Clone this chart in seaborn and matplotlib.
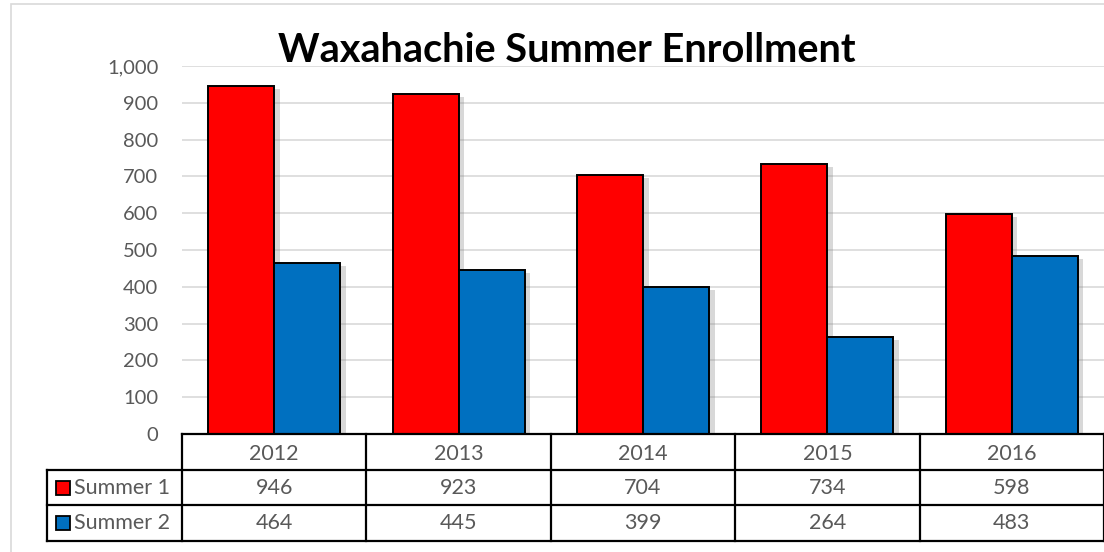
"""Waxahachie summer enrollment: clustered bars with an Excel-style data table."""

import matplotlib
matplotlib.use("Agg")
import matplotlib.pyplot as plt
import matplotlib.patheffects as pe
from matplotlib.lines import Line2D
from matplotlib.patches import Rectangle
import pandas as pd
import seaborn as sns

years = ["2012", "2013", "2014", "2015", "2016"]
summer1 = [946, 923, 704, 734, 598]
summer2 = [464, 445, 399, 264, 483]
series = ["Summer 1", "Summer 2"]
colors = ["#FF0000", "#0070C0"]
yticks = list(range(0, 1001, 100))

W, H = 1104, 552
GRAY_TXT = "#595959"
GRID = "#D9D9D9"
TAB_FS = 15.5

sns.set_theme(style="white")
plt.rcParams["font.family"] = ["Lato", "DejaVu Sans"]

df = pd.DataFrame({
    "year": years * 2,
    "enrollment": summer1 + summer2,
    "series": [series[0]] * len(years) + [series[1]] * len(years),
})

fig = plt.figure(figsize=(W / 100, H / 100), dpi=100)

# outer chart-area border
fig.add_artist(Rectangle((11 / W, -0.1), 1.2, (H - 4) / H + 0.1,
                         transform=fig.transFigure, fill=False,
                         edgecolor=GRID, linewidth=1.2))

x0, x1 = 182, 1104
y_top, y_zero, y_bot = 66, 434, 541
ax = fig.add_axes([x0 / W, (H - y_zero) / H, (x1 - x0) / W, (y_zero - y_top) / H])

sns.barplot(data=df, x="year", y="enrollment", hue="series", order=years,
            hue_order=series, palette=colors, width=0.716, edgecolor="black",
            linewidth=1.4, saturation=1, ax=ax, legend=False)
for bar in ax.patches:
    bar.set_path_effects([
        pe.SimplePatchShadow(offset=(4, -2), shadow_rgbFace="#808080", alpha=0.3),
        pe.Normal(),
    ])

ax.set_xlim(-0.5, len(years) - 0.5)
ax.set_ylim(0, 1000)
ax.set_yticks(yticks)
ax.set_yticklabels([f"{v:,}" for v in yticks])
ax.tick_params(axis="y", length=0, pad=17, labelsize=14.5, labelcolor=GRAY_TXT)
ax.set_xticks([])
ax.set_xlabel("")
ax.set_ylabel("")
for s in ax.spines.values():
    s.set_visible(False)
ax.grid(False)
for v in yticks[1:]:
    ax.axhline(v, color=GRID, linewidth=1.2, zorder=0)

fig.text(567 / W, (H - 51) / H, "Waxahachie Summer Enrollment",
         ha="center", va="center", fontsize=28.5, fontweight="bold", color="black")

# data table underneath, sharing the category scale of the bars
tab = fig.add_axes([x0 / W, (H - y_bot) / H, (x1 - x0) / W, (y_bot - y_zero) / H])
tab.set_xlim(-0.5, len(years) - 0.5)
tab.set_ylim(3, 0)
tab.axis("off")

unit = (x1 - x0) / len(years)
left = -0.5 - (x0 - 47) / unit
line_kw = dict(color="black", linewidth=1.6, clip_on=False, solid_capstyle="projecting")
tab.add_line(Line2D([-0.5, len(years) - 0.5], [0, 0], **line_kw))
for r in (1, 2, 3):
    tab.add_line(Line2D([left, len(years) - 0.5], [r, r], **line_kw))
tab.add_line(Line2D([left, left], [1, 3], **line_kw))
for c in range(len(years) + 1):
    tab.add_line(Line2D([c - 0.5, c - 0.5], [0, 3], **line_kw))

for i, yr in enumerate(years):
    tab.text(i, 0.55, yr, ha="center", va="center", fontsize=TAB_FS, color=GRAY_TXT)
for r, (name, vals, col) in enumerate(zip(series, [summer1, summer2], colors), start=1):
    tab.plot([-0.5 - (x0 - 63) / unit], [r + 0.5], marker="s", markersize=10.5,
             markerfacecolor=col, markeredgecolor="black", markeredgewidth=1.3,
             clip_on=False)
    tab.text(-0.5 - (x0 - 74) / unit, r + 0.5, name, ha="left", va="center",
             fontsize=TAB_FS, color=GRAY_TXT)
    for i, v in enumerate(vals):
        tab.text(i, r + 0.5, f"{v}", ha="center", va="center", fontsize=TAB_FS,
                 color=GRAY_TXT)

fig.savefig("out.png", dpi=100)
plt.close(fig)
